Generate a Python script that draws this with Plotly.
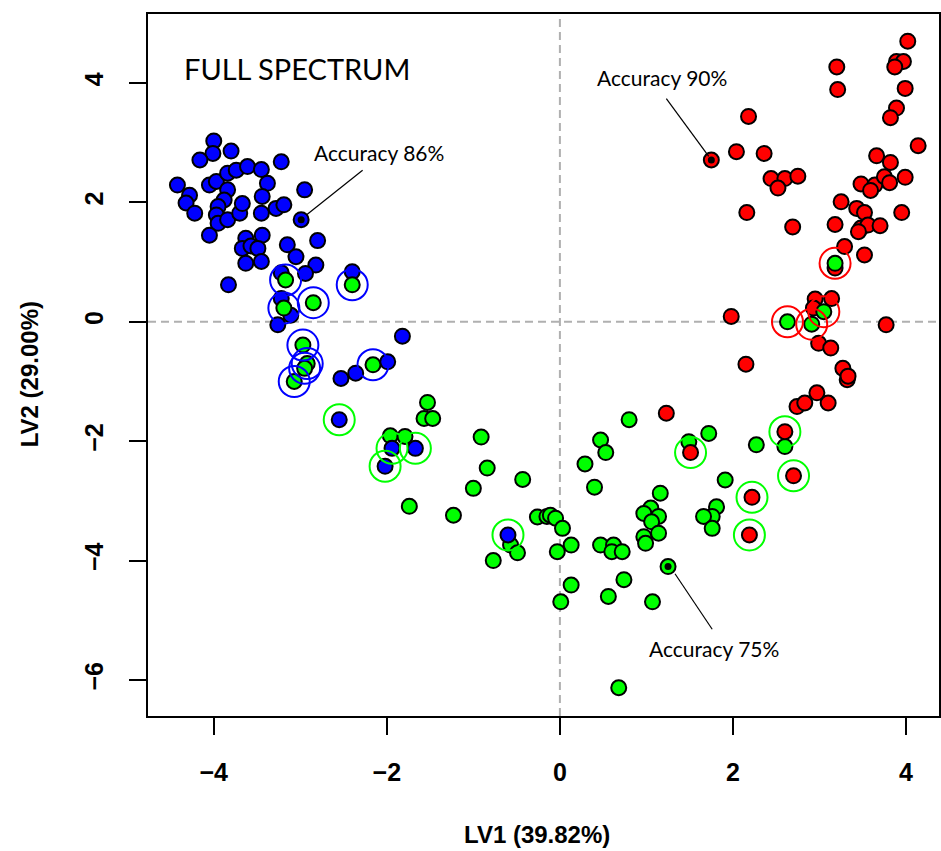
import plotly.graph_objects as go

# ---- data (LV1, LV2 scores) ----
# predicted blue, correctly classified
blue_x = [-4.00, -4.01, -4.16, -3.80, -4.42, -4.28, -4.32, -4.22, -4.05, -3.97, -3.84, -3.74, -3.61,
          -3.45, -3.38, -3.84, -3.88, -3.95, -3.97, -3.95, -3.84, -3.70, -3.67, -3.44, -3.45, -3.28,
          -3.19, -3.22, -2.95, -2.99, -4.05, -3.63, -3.44, -3.67, -3.57, -3.49, -3.63, -3.45, -3.15,
          -3.05, -2.80, -2.82, -2.94, -3.83, -2.40, -3.22, -3.22, -3.11, -3.26, -1.82, -1.99, -2.36, -2.53]
blue_y = [3.03, 2.82, 2.71, 2.86, 2.29, 2.12, 1.99, 1.82, 2.29, 2.35, 2.49, 2.54, 2.60,
          2.55, 2.32, 2.21, 2.04, 1.93, 1.79, 1.65, 1.71, 1.82, 1.98, 2.10, 1.82, 1.90,
          1.96, 2.68, 2.21, 1.71, 1.45, 1.40, 1.45, 1.23, 1.27, 1.23, 0.98, 1.01, 1.29,
          1.09, 1.36, 0.95, 0.81, 0.62, 0.84, 0.82, 0.39, 0.11, -0.05, -0.24, -0.67, -0.86, -0.95]

# predicted green, correctly classified
green_x = [-1.53, -1.57, -1.47, -1.96, -1.79, -0.91, -0.84, -1.00, -0.43, -1.74, -1.23, -0.26, -0.15,
           -0.11, -0.05, 0.03, -0.57, -0.49, -0.77, -0.03, 0.13, 0.47, 0.62, 0.60, 0.72, 0.13, 0.01,
           0.74, 0.56, 1.07, 0.68, 1.25, 0.80, 0.47, 0.53, 0.29, 0.40, 1.72, 1.49, 1.91, 1.16, 1.05,
           0.97, 1.14, 1.06, 1.14, 0.97, 0.99, 1.81, 1.76, 1.66, 1.76, 2.27, 2.60]
green_y = [-1.35, -1.62, -1.62, -1.91, -1.92, -1.93, -2.45, -2.79, -2.64, -3.09, -3.24, -3.27, -3.26,
           -3.24, -3.29, -3.46, -3.74, -3.87, -4.00, -3.85, -3.74, -3.74, -3.74, -3.85, -3.85, -4.41, -4.69,
           -4.32, -4.60, -4.69, -6.13, -4.10, -1.64, -1.98, -2.19, -2.38, -2.77, -1.87, -2.01, -2.65, -2.87, -3.12,
           -3.21, -3.26, -3.35, -3.54, -3.60, -3.71, -3.10, -3.26, -3.26, -3.46, -2.06, -2.09]

# predicted red, correctly classified
red_x = [1.23, 2.74, 2.83, 2.97, 3.10, 3.32, 3.27, 3.33, 2.99, 3.13, 2.15, 1.98, 3.77, 2.95, 3.14,
         2.93, 3.18, 3.29, 3.52, 2.16, 2.69, 3.18, 3.95, 3.25, 3.43, 3.52, 3.48, 3.56, 3.70, 3.45,
         3.48, 3.64, 3.59, 3.66, 3.82, 3.75, 3.99, 3.81, 4.14, 2.44, 2.60, 2.75, 2.52, 2.18, 1.75,
         2.04, 2.36, 4.02, 3.89, 3.97, 3.87, 3.20, 3.21, 3.99, 3.89, 3.82]
red_y = [-1.53, -1.42, -1.36, -1.19, -1.36, -0.97, -0.78, -0.91, -0.36, -0.44, -0.71, 0.09, -0.05, 0.38, 0.39,
         0.23, 0.90, 1.26, 1.12, 1.83, 1.59, 1.63, 1.83, 2.01, 1.90, 1.83, 1.57, 1.62, 1.61, 1.51,
         2.31, 2.29, 2.20, 2.78, 2.67, 2.43, 2.42, 2.33, 2.95, 2.40, 2.40, 2.44, 2.24, 3.44, 2.71,
         2.85, 2.82, 4.70, 4.36, 4.36, 4.27, 4.27, 3.89, 3.91, 3.58, 3.42]

# misclassified: true blue, predicted green
tb_pg_x = [-3.17, -2.40, -2.85, -3.19, -2.97, -2.92, -2.95, -3.07, -2.16]
tb_pg_y = [0.70, 0.62, 0.32, 0.23, -0.39, -0.70, -0.78, -1.00, -0.72]
# misclassified: true green, predicted blue
tg_pb_x = [-2.55, -1.94, -1.67, -2.02, -0.60]
tg_pb_y = [-1.64, -2.12, -2.12, -2.42, -3.57]
# misclassified: true red, predicted green
tr_pg_x = [3.18, 3.05, 2.63, 2.91]
tr_pg_y = [0.98, 0.17, 0.00, -0.04]
# misclassified: true green, predicted red
tg_pr_x = [1.51, 2.60, 2.70, 2.22, 2.19]
tg_pr_y = [-2.19, -1.84, -2.58, -2.94, -3.57]

# highlighted samples (black centre dot) and their labels
hl_x = [-2.99, 1.75, 1.25]
hl_y = [1.71, 2.71, -4.10]
acc_labels = ["Accuracy 86%", "Accuracy 90%", "Accuracy 75%"]

x_ticks = [-4, -2, 0, 2, 4]
y_ticks = [4, 2, 0, -2, -4, -6]

BLUE, GREEN, RED = "#0000FF", "#00FF00", "#FF0000"

fig = go.Figure()


def points(x, y, color):
    fig.add_trace(go.Scatter(
        x=x, y=y, mode="markers", hoverinfo="skip", showlegend=False,
        marker=dict(size=15, color=color, line=dict(color="black", width=2))))


def rings(x, y, color):
    fig.add_trace(go.Scatter(
        x=x, y=y, mode="markers", hoverinfo="skip", showlegend=False,
        marker=dict(size=31, symbol="circle-open", color=color, line=dict(color=color, width=2))))


points(blue_x, blue_y, BLUE)
points(red_x, red_y, RED)
points(green_x, green_y, GREEN)
points(tg_pb_x, tg_pb_y, BLUE)
points(tg_pr_x, tg_pr_y, RED)
points(tb_pg_x, tb_pg_y, GREEN)
points(tr_pg_x, tr_pg_y, GREEN)
rings(tb_pg_x, tb_pg_y, BLUE)
rings(tr_pg_x, tr_pg_y, RED)
rings(tg_pb_x, tg_pb_y, GREEN)
rings(tg_pr_x, tg_pr_y, GREEN)

fig.add_trace(go.Scatter(
    x=hl_x, y=hl_y, mode="markers", hoverinfo="skip", showlegend=False,
    marker=dict(size=7, color="black")))

# reference lines at zero
dash_style = dict(color="#B0B0B0", width=2, dash="8px,5px")
fig.add_shape(type="line", xref="x", yref="paper", x0=0, x1=0, y0=0, y1=1, line=dash_style, layer="below")
fig.add_shape(type="line", xref="paper", yref="y", x0=0, x1=1, y0=0, y1=0, line=dash_style, layer="below")

# leader lines for the accuracy labels
leaders = [(-2.93, 1.79, -2.28, 2.54), (1.72, 2.77, 1.23, 3.74), (1.33, -4.22, 1.76, -5.15)]
for x0, y0, x1, y1 in leaders:
    fig.add_shape(type="line", x0=x0, y0=y0, x1=x1, y1=y1, line=dict(color="black", width=1.2))

label_font = dict(family="Lato, Open Sans, sans-serif", size=21, color="black")
label_pos = [(-2.86, 2.83), (0.40, 4.10), (1.01, -5.48)]
for (lx, ly), txt in zip(label_pos, acc_labels):
    fig.add_annotation(x=lx, y=ly, text=txt, showarrow=False, xanchor="left", yanchor="middle", font=label_font)

fig.add_annotation(x=-4.37, y=4.25, text="FULL SPECTRUM", showarrow=False, xanchor="left", yanchor="middle",
                   font=dict(family="Lato, Open Sans, sans-serif", size=29, color="black"))

axis_font = dict(family="Liberation Sans, Arial, sans-serif", size=24, color="black", weight="bold")
fig.add_annotation(xref="paper", yref="paper", x=(538 - 148) / 793, y=(851 - 835 - 135) / 702,
                   text="LV1 (39.82%)", showarrow=False, xanchor="center", yanchor="middle", font=axis_font)
fig.add_annotation(xref="paper", yref="paper", x=(30 - 148) / 793, y=(851 - 374 - 135) / 702,
                   text="LV2 (29.00%)", showarrow=False, xanchor="center", yanchor="middle", textangle=-90,
                   font=axis_font)

tick_font = dict(family="Liberation Sans, Arial, sans-serif", size=25, color="black", weight="bold")
fig.update_xaxes(range=[-4.76, 4.381], tickvals=x_ticks, ticks="outside", ticklen=17, tickwidth=2,
                 tickcolor="black", showline=True, linewidth=2, linecolor="black", mirror=True,
                 showgrid=False, zeroline=False, tickfont=tick_font, ticklabelstandoff=16)
fig.update_yaxes(range=[-6.603, 5.156], tickvals=y_ticks, ticks="outside", ticklen=17, tickwidth=2,
                 tickcolor="black", showline=True, linewidth=2, linecolor="black", mirror=True,
                 showgrid=False, zeroline=False, tickfont=tick_font, tickangle=-90, ticklabelstandoff=16)

fig.update_layout(width=941, height=851, margin=dict(l=148, r=0, t=14, b=135, pad=0),
                  plot_bgcolor="white", paper_bgcolor="white")

fig.write_html("out.html")
